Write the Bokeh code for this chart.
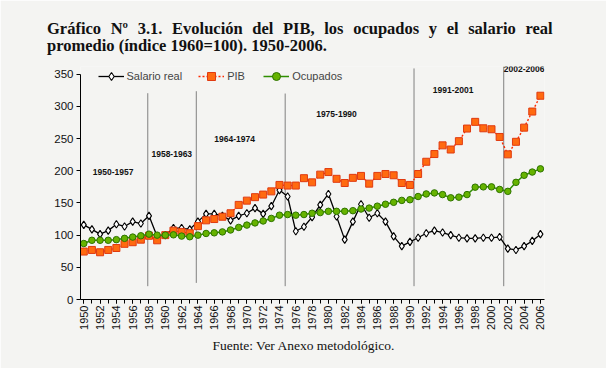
import math
from bokeh.plotting import figure
from bokeh.models import Legend, LegendItem, FixedTicker, Title, Range1d
from bokeh.embed import file_html
from bokeh.resources import INLINE
from bokeh.core.properties import value

# ---------------- data ----------------
years = list(range(1950, 2007))

salario = [116, 109, 101.5, 107, 117, 113.5, 121, 118, 130, 98, 100, 111, 111, 109, 121, 133, 133,
           130, 123, 130, 134, 142, 133, 145, 170, 160, 106, 113, 128, 147, 164, 129, 93, 121, 148,
           127, 134, 121, 98, 83,
           89.6, 96, 103, 107, 104, 100, 96, 95, 95, 96, 96, 97, 79, 77, 83, 91, 101.5]

pib = [74.5, 77, 73.4, 77, 80, 86.5, 89, 93, 99, 92, 100, 107, 105, 103, 114, 123, 125,
       128.6, 134, 147, 153.6, 159, 163, 168, 178, 177, 177, 188.5, 182, 194, 198, 187.5, 181,
       189, 192, 180, 192, 195, 193, 181,
       178, 195, 214, 226, 239.5, 233, 246, 265.6, 276, 266, 264.5, 252.5, 225.5, 245, 267, 292, 316.6]

ocupados = [87, 92, 92, 92, 93, 95, 97, 99, 101.5, 100, 100, 100.5, 98.5, 97.5, 100, 102.6, 103.6,
            105, 108, 112, 115.6, 119, 122, 126, 131, 132, 131, 132, 134, 135, 137, 137, 137, 138,
            140.6, 142, 145, 148, 151,
            154, 155, 160, 164, 165.6, 163, 158, 159, 163, 174.5, 175, 175, 171, 168, 182, 193, 198, 203]

period_labels = ["1950-1957", "1958-1963", "1964-1974", "1975-1990", "1991-2001", "2002-2006"]
period_label_x = [1951.1, 1958.3, 1966.0, 1978.5, 1992.8, 2001.5]
period_label_y = [198, 225.7, 249.5, 288, 325, 357.8]

divider_x = [1957.85, 1963.8, 1974.7, 1990.5, 2001.5]
divider_bottom = [20.7, 25.8, 20.7, 20.7, 20.7]
divider_top = [320.5, 323.6, 320, 359, 362]

y_ticks = [0, 50, 100, 150, 200, 250, 300, 350]
x_label_ticks = years[::2]

title_line1 = "Gráfico \u2004Nº \u20043.1. \u2004Evolución \u2004del \u2004PIB, \u2004los \u2004ocupados \u2004y \u2004el \u2004salario \u2004real"
title_line2 = "promedio (índice 1960=100). 1950-2006."
footer = "Fuente: Ver Anexo metodológico."

BG = "#f4f4f2"

p = figure(width=606, height=368, output_backend="svg", toolbar_location=None,
           x_range=Range1d(1949.6, 2006.5), y_range=Range1d(0, 362),
           min_border_left=80, min_border_right=62, min_border_top=66, min_border_bottom=69,
           background_fill_color=BG, border_fill_color=BG, outline_line_color=None)
p.grid.visible = False

# dividers
p.segment(x0=divider_x, y0=divider_bottom, x1=divider_x, y1=divider_top,
          line_color="#808080", line_width=1)

p.text(x=period_label_x, y=period_label_y, text=period_labels,
       text_font=value("Liberation Sans"), text_font_style="bold", text_font_size="8.5px",
       text_baseline="middle", text_align="left", text_color="#111111")

# series
l1 = p.line(years, salario, line_color="#000000", line_width=1.3)
s1 = p.scatter(years, salario, marker="diamond", size=7.5, fill_color="white",
               line_color="#000000", line_width=1.1)

l2 = p.line(years, pib, line_color="#ff2a00", line_width=1.4, line_dash="2 2")
s2 = p.scatter(years, pib, marker="square", size=7, fill_color="#ff6a10",
               line_color="#e03a10", line_width=1)

l3 = p.line(years, ocupados, line_color="#2f8f00", line_width=1.5)
s3 = p.scatter(years, ocupados, marker="circle", size=6.5, fill_color="#66b300",
               line_color="#2e7300", line_width=1)

legend = Legend(items=[LegendItem(label="Salario real", renderers=[l1, s1]),
                       LegendItem(label="PIB", renderers=[l2, s2]),
                       LegendItem(label="Ocupados", renderers=[l3, s3])],
                location=(17.5, 213), orientation="horizontal",
                background_fill_alpha=0, border_line_color=None,
                padding=0, margin=0, spacing=16, glyph_width=26, glyph_height=20,
                label_standoff=3, label_height=20,
                label_text_font="Liberation Sans", label_text_font_size="11px")
p.add_layout(legend)

# axes
p.xaxis.ticker = FixedTicker(ticks=x_label_ticks, minor_ticks=years)
p.xaxis.major_label_orientation = math.pi / 2
p.xaxis.major_label_text_font = "Liberation Sans"
p.xaxis.major_label_text_font_size = "11px"
p.xaxis.major_label_text_color = "#111111"
p.xaxis.major_tick_in = 0
p.xaxis.major_tick_out = 4
p.xaxis.minor_tick_in = 0
p.xaxis.minor_tick_out = 4
p.xaxis.major_label_standoff = 2
p.xaxis.axis_line_color = "#000000"

p.yaxis.ticker = FixedTicker(ticks=y_ticks)
p.yaxis.bounds = (0, 350)
p.yaxis.major_label_text_font = "Liberation Sans"
p.yaxis.major_label_text_font_size = "11.5px"
p.yaxis.major_label_text_color = "#111111"
p.yaxis.major_tick_in = 0
p.yaxis.major_tick_out = 4
p.yaxis.minor_tick_line_color = None
p.yaxis.major_label_standoff = 3
p.yaxis.axis_line_color = "#000000"

# two-line title
tt = Title(text=title_line1 + "\n" + title_line2, align="left", offset=-33.5,
           text_font="Liberation Serif", text_font_size="16.5px", text_font_style="bold",
           text_color="#111111", text_line_height=0.88, standoff=23)
p.add_layout(tt, "above")

tf = Title(text=footer, align="left", offset=132, text_font="Liberation Serif",
           text_font_size="13.5px", text_font_style="normal", text_color="#111111", standoff=6)
p.add_layout(tf, "below")

open("out.html", "w").write(file_html(p, INLINE))
